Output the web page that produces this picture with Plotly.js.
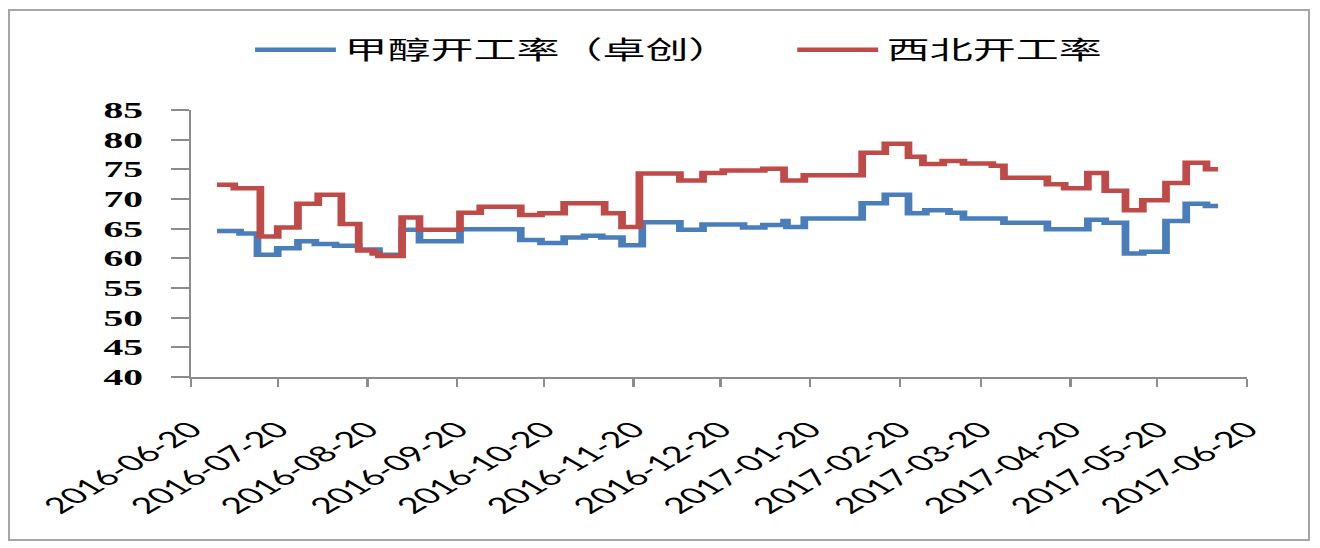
<!DOCTYPE html>
<html>
<head>
<meta charset="utf-8">
<script src="https://cdn.plot.ly/plotly-3.0.1.min.js"></script>
<style>
  html, body { margin: 0; padding: 0; background: #fff; }
  #wrap { position: relative; width: 1320px; height: 548px; overflow: hidden; background: #fff; }
  #frame { position: absolute; left: 8px; top: 9px; width: 1302px; height: 532px; box-sizing: border-box; border: 2px solid #a6a6a6; }
  #plot { position: absolute; left: 0; top: 0; width: 767px; height: 548px; transform: scaleX(1.72); transform-origin: 0 0; }
</style>
</head>
<body>
<div id="wrap">
  <div id="frame"></div>
  <div id="plot"></div>
</div>
<script>
// Series names
const seriesNames = ['甲醇开工率（卓创）', '西北开工率'];

// 甲醇开工率（卓创） — change dates and values
const blueDates = ['2016-06-29','2016-07-07','2016-07-13','2016-07-20','2016-07-27','2016-08-02','2016-08-09','2016-08-17','2016-08-24','2016-09-01','2016-09-07','2016-09-21','2016-10-12','2016-10-19','2016-10-27','2016-11-03','2016-11-09','2016-11-16','2016-11-23','2016-12-06','2016-12-14','2016-12-28','2017-01-04','2017-01-11','2017-01-12','2017-01-18','2017-02-07','2017-02-15','2017-02-23','2017-03-01','2017-03-09','2017-03-14','2017-03-28','2017-04-12','2017-04-26','2017-05-02','2017-05-09','2017-05-15','2017-05-23','2017-05-30','2017-06-06','2017-06-10'];
const blueValues = [64.6,64.2,60.6,61.7,62.9,62.4,62.1,61.5,60.6,64.8,62.9,64.9,63.1,62.6,63.5,63.8,63.5,62.2,66.1,64.8,65.7,65.2,65.6,66.3,65.3,66.7,69.3,70.7,67.6,68.1,67.7,66.7,66.0,64.9,66.5,66.0,60.8,61.1,66.3,69.2,68.8,68.8];

// 西北开工率 — change dates and values
const redDates = ['2016-06-29','2016-07-05','2016-07-14','2016-07-20','2016-07-27','2016-08-03','2016-08-11','2016-08-17','2016-08-22','2016-08-24','2016-09-01','2016-09-07','2016-09-21','2016-09-28','2016-10-12','2016-10-19','2016-10-27','2016-11-10','2016-11-16','2016-11-22','2016-12-06','2016-12-14','2016-12-21','2017-01-04','2017-01-11','2017-01-18','2017-02-07','2017-02-15','2017-02-23','2017-02-28','2017-03-07','2017-03-14','2017-03-24','2017-03-28','2017-04-12','2017-04-18','2017-04-26','2017-05-02','2017-05-09','2017-05-15','2017-05-23','2017-05-30','2017-06-06','2017-06-10'];
const redValues = [72.4,71.8,63.7,65.2,69.2,70.7,65.8,61.3,60.8,60.4,66.9,64.8,67.7,68.7,67.3,67.6,69.3,67.6,65.3,74.3,73.1,74.4,74.8,75.1,73.1,74.0,77.8,79.3,77.1,75.9,76.4,76.0,75.6,73.6,72.5,71.8,74.4,71.4,68.1,69.8,72.7,76.1,75.0,75.0];

// Axis ticks
const xTickLabels = ['2016-06-20','2016-07-20','2016-08-20','2016-09-20','2016-10-20','2016-11-20','2016-12-20','2017-01-20','2017-02-20','2017-03-20','2017-04-20','2017-05-20','2017-06-20'];
const yTickValues = [40,45,50,55,60,65,70,75,80,85];

const traces = [
  { type: 'scatter', mode: 'lines', name: seriesNames[0], x: blueDates, y: blueValues,
    legend: 'legend',
    line: { color: '#4a7ebb', width: 4.5, shape: 'hv' } },
  { type: 'scatter', mode: 'lines', name: seriesNames[1], x: redDates, y: redValues,
    legend: 'legend2',
    line: { color: '#be4b48', width: 4.5, shape: 'hv' } }
];

const legendFont = { family: 'Noto Sans CJK SC', size: 25, color: '#000' };

const layout = {
  width: 767, height: 548,
  margin: { l: 111, r: 42, t: 110, b: 171 },
  paper_bgcolor: 'rgba(0,0,0,0)',
  plot_bgcolor: 'rgba(0,0,0,0)',
  showlegend: true,
  legend: {
    orientation: 'h', x: 0.0526, xanchor: 'left', y: 1.225, yanchor: 'middle',
    font: legendFont, itemwidth: 47, bgcolor: 'rgba(0,0,0,0)'
  },
  legend2: {
    orientation: 'h', x: 0.566, xanchor: 'left', y: 1.225, yanchor: 'middle',
    font: legendFont, itemwidth: 47, bgcolor: 'rgba(0,0,0,0)'
  },
  xaxis: {
    type: 'date',
    range: ['2016-06-20', '2017-06-20'],
    tickmode: 'array', tickvals: xTickLabels, ticktext: xTickLabels,
    tickangle: -45,
    tickfont: { family: 'Lato, Liberation Sans, sans-serif', size: 22, color: '#000' },
    showgrid: false, zeroline: false,
    showline: true, linecolor: '#8c8c8c', linewidth: 2,
    ticks: 'outside', ticklen: 8, tickcolor: '#8c8c8c', tickwidth: 1.3,
    ticklabelstandoff: 21,
    fixedrange: true
  },
  yaxis: {
    range: [40, 85],
    tickmode: 'array', tickvals: yTickValues,
    tickfont: { family: 'Liberation Serif, serif', size: 23, color: '#000', weight: 'bold' },
    showgrid: false, zeroline: false,
    showline: true, linecolor: '#8c8c8c', linewidth: 1.3,
    ticks: 'outside', ticklen: 10, tickcolor: '#8c8c8c', tickwidth: 2,
    ticklabelstandoff: 12,
    fixedrange: true
  }
};

Plotly.newPlot('plot', traces, layout, { displayModeBar: false, staticPlot: true });
</script>
</body>
</html>
